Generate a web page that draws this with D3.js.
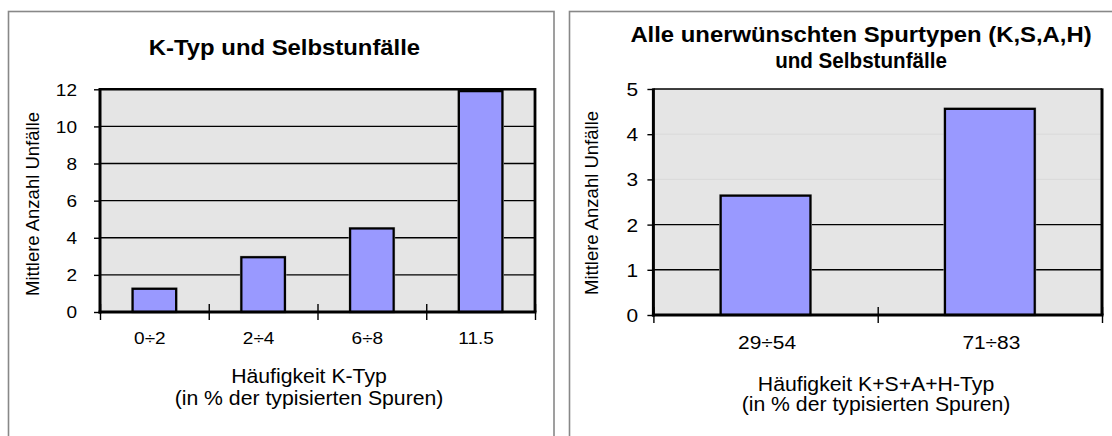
<!DOCTYPE html>
<html><head><meta charset="utf-8">
<script src="https://cdn.jsdelivr.net/npm/d3@7"></script>
<style>
body{margin:0;background:#fff}
svg{display:block}
text{font-family:"Liberation Sans",Arial,Helvetica,sans-serif;fill:#000}
</style>
</head><body>
<svg id="chart" width="1112" height="436"></svg>
<script>
// ---------- data ----------
const leftCategories = ["0÷2", "2÷4", "6÷8", "11.5"];
const leftValues = [1.25, 2.95, 4.5, 11.9];
const leftTicks = [0, 2, 4, 6, 8, 10, 12];
const leftTitle = ["K-Typ und Selbstunfälle"];
const leftXLabel = ["Häufigkeit K-Typ", "(in % der typisierten Spuren)"];

const rightCategories = ["29÷54", "71÷83"];
const rightValues = [2.64, 4.56];
const rightTicks = [0, 1, 2, 3, 4, 5];
const rightFaintGrid = [3, 4];
const rightTitle = ["Alle unerwünschten Spurtypen (K,S,A,H)", "und Selbstunfälle"];
const rightXLabel = ["Häufigkeit K+S+A+H-Typ", "(in % der typisierten Spuren)"];

const yLabel = "Mittlere Anzahl Unfälle";

// ---------- drawing ----------
const svg = d3.select("#chart");
const SX = 1.1; // horizontal text stretch seen in the reference

function stext(g, x, y, str, size, weight, anchor, sx) {
  return g.append("text")
    .attr("transform", `translate(${x},${y}) scale(${sx || SX},1)`)
    .attr("text-anchor", anchor || "middle")
    .style("font-size", size + "px")
    .style("font-weight", weight || "normal")
    .text(str);
}

function panel(cfg) {
  const g = svg.append("g");
  // outer frame
  g.append("rect")
    .attr("x", cfg.frame[0]).attr("y", cfg.frame[1])
    .attr("width", cfg.frame[2]).attr("height", cfg.frame[3])
    .attr("fill", "#fff").attr("stroke", "#888").attr("stroke-width", 1.6);

  const [x0, x1, y0, y1] = cfg.plot; // left, right, top, bottom
  const x = d3.scaleBand().domain(cfg.categories).range([x0, x1])
    .paddingInner(0.6).paddingOuter(0.3);
  const y = d3.scaleLinear().domain([0, cfg.max]).range([y1, y0]);
  const xb = d3.scaleLinear().domain([0, cfg.categories.length]).range([x0, x1]);

  // plot background
  g.append("rect").attr("x", x0).attr("y", y0)
    .attr("width", x1 - x0).attr("height", y1 - y0).attr("fill", "#e5e5e5");

  // gridlines
  g.append("g").selectAll("line")
    .data(cfg.ticks.filter(t => t > 0 && t < cfg.max))
    .join("line")
    .attr("x1", x0).attr("x2", x1)
    .attr("y1", d => y(d)).attr("y2", d => y(d))
    .attr("stroke", d => cfg.faint.includes(d) ? "#d9d9d9" : "#000")
    .attr("stroke-width", d => cfg.faint.includes(d) ? 1 : 1.4);

  // bars
  const bars = g.append("g");
  bars.selectAll("rect.sh")
    .data(cfg.values).join("rect").attr("class", "sh")
    .attr("x", (d, i) => x(cfg.categories[i]) - 1.5)
    .attr("y", d => y(d) - 1.5)
    .attr("width", x.bandwidth() + 3)
    .attr("height", d => y(0) - y(d) + 1.5)
    .attr("fill", "#a8a8a8");
  bars.selectAll("rect.b")
    .data(cfg.values).join("rect").attr("class", "b")
    .attr("x", (d, i) => x(cfg.categories[i]))
    .attr("y", d => y(d))
    .attr("width", x.bandwidth())
    .attr("height", d => y(0) - y(d))
    .attr("fill", "#9999ff").attr("stroke", "#000").attr("stroke-width", 2.2);

  // plot border (top/right)
  g.append("line").attr("x1", x0).attr("x2", x1).attr("y1", y0).attr("y2", y0)
    .attr("stroke", "#000").attr("stroke-width", cfg.topW);
  g.append("line").attr("x1", x1).attr("x2", x1).attr("y1", y0 - cfg.topW / 2).attr("y2", y1)
    .attr("stroke", "#000").attr("stroke-width", cfg.rightW);

  // y axis
  const ya = g.append("g").attr("transform", `translate(${x0},0)`)
    .call(d3.axisLeft(y).tickValues(cfg.ticks).tickSize(6).tickSizeOuter(0).tickFormat(d3.format("d")));
  ya.select(".domain").remove();
  ya.attr("font-family", null).attr("font-size", null);
  ya.selectAll(".tick line").attr("stroke", "#000").attr("stroke-width", 1.4);
  ya.selectAll(".tick text")
    .attr("x", -cfg.yLabelOff / SX)
    .attr("transform", `scale(${SX},1)`)
    .attr("dy", "0.34em")
    .style("font-size", cfg.tickSize + "px");

  // x boundary ticks
  const xa = g.append("g").attr("transform", `translate(0,${y1})`)
    .call(d3.axisBottom(xb).tickValues(d3.range(cfg.categories.length + 1)).tickSize(8).tickFormat(""));
  xa.select(".domain").remove();
  xa.selectAll(".tick line").attr("y1", -8).attr("stroke", "#000").attr("stroke-width", 1.4);

  // x category labels
  const xl = g.append("g").attr("transform", `translate(${cfg.xTickShift},${cfg.xTickBase})`)
    .call(d3.axisBottom(x).tickSize(0).tickPadding(0));
  xl.select(".domain").remove();
  xl.attr("font-family", null).attr("font-size", null);
  xl.selectAll(".tick text")
    .attr("y", 0).attr("dy", 0)
    .attr("transform", `scale(${SX},1)`)
    .style("font-size", cfg.tickSize + "px");

  // axis lines (thick)
  g.append("line").attr("x1", x0).attr("x2", x0).attr("y1", y0 - cfg.topW / 2).attr("y2", y1 + 1.5)
    .attr("stroke", "#000").attr("stroke-width", 3);
  g.append("line").attr("x1", x0 - 1.5).attr("x2", x1 + cfg.rightW / 2).attr("y1", y1).attr("y2", y1)
    .attr("stroke", "#000").attr("stroke-width", 3);

  // titles
  cfg.title.forEach((t, i) => stext(g, cfg.titleX, cfg.titleY[i], t, cfg.titleSize, "bold", "middle", cfg.titleSX[i]));
  // x label
  cfg.xLabel.forEach((t, i) => stext(g, cfg.xLabelX, cfg.xLabelY[i], t, cfg.axisSize));
  // y label
  g.append("text")
    .attr("transform", `translate(${cfg.yLabelPos[0]},${cfg.yLabelPos[1]}) rotate(-90)`)
    .attr("text-anchor", "middle")
    .style("font-size", cfg.yLabelSize + "px")
    .text(yLabel);
}

panel({
  frame: [8.5, 11.5, 545.5, 440],
  plot: [100, 535, 89.3, 312],
  categories: leftCategories, values: leftValues, ticks: leftTicks, max: 12, faint: [],
  topW: 2.6, rightW: 2.8,
  tickSize: 17.3, yLabelOff: 23, xTickBase: 344, xTickShift: -4.5,
  title: leftTitle, titleX: 284.5, titleY: [55], titleSize: 21.7, titleSX: [1.1],
  xLabel: leftXLabel, xLabelX: 309, xLabelY: [382.7, 405], axisSize: 19.3,
  yLabelPos: [38.5, 204], yLabelSize: 18.5
});

panel({
  frame: [569.5, 11.5, 560, 440],
  plot: [653.4, 1102, 89, 315],
  categories: rightCategories, values: rightValues, ticks: rightTicks, max: 5, faint: rightFaintGrid,
  topW: 1.3, rightW: 3,
  tickSize: 19, yLabelOff: 15.4, xTickBase: 348.8, xTickShift: 1.5,
  title: rightTitle, titleX: 861, titleY: [41.7, 68], titleSize: 21.7, titleSX: [1.1, 0.95],
  xLabel: rightXLabel, xLabelX: 876, xLabelY: [390.7, 411], axisSize: 19.3,
  yLabelPos: [597.5, 203], yLabelSize: 18.5
});
</script>
</body></html>
